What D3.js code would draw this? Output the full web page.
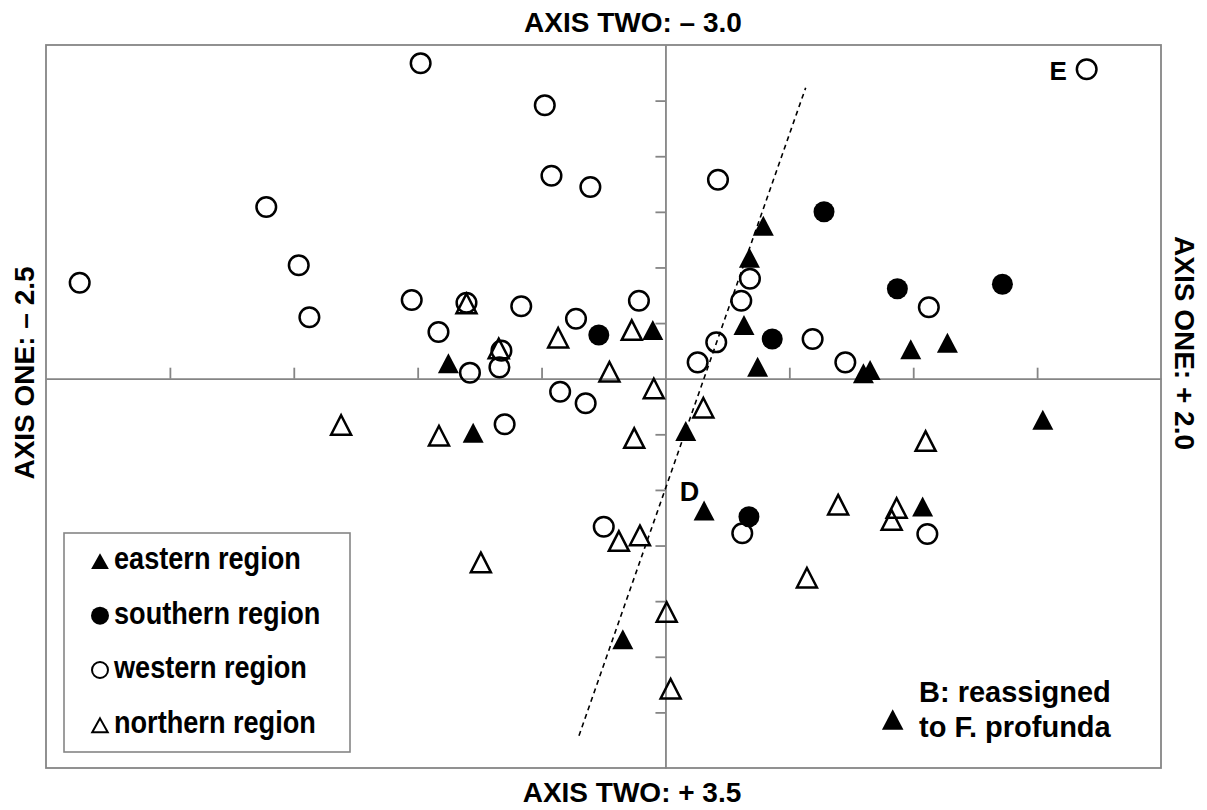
<!DOCTYPE html>
<html><head><meta charset="utf-8">
<script src="https://cdn.jsdelivr.net/npm/d3@7"></script>
<style>
body{margin:0;background:#fff}
text{font-family:"Liberation Sans",Arial,Helvetica,sans-serif;font-weight:bold;fill:#000}
</style>
</head><body>
<svg id="chart" width="1207" height="810"></svg>
<script>
// ---- data: [axis one, axis two] ----
const western = [
  [-0.988,-2.836],[-1.611,-1.544],[-1.480,-1.020],[-2.364,-0.863],[-1.437,-0.552],
  [-1.024,-0.708],[-0.916,-0.420],[-0.487,-2.458],[-0.460,-1.825],[-0.303,-1.723],
  [0.212,-1.789],[0.341,-0.899],[0.306,-0.701],[0.594,-0.357],[0.726,-0.147],
  [0.205,-0.327],[0.130,-0.147],[-0.107,-0.701],[-0.361,-0.539],[-0.582,-0.651],
  [-0.803,-0.683],[-0.662,-0.252],[-0.670,-0.102],[-0.789,-0.054],[1.700,-2.782],
  [1.063,-0.642],[-0.425,0.117],[-0.322,0.221],[-0.649,0.410],[0.310,1.390],
  [-0.249,1.331],[1.057,1.396]
];
const southern = [
  [0.640,-1.501],[0.936,-0.809],[1.360,-0.849],[0.431,-0.357],[-0.269,-0.393],[0.337,1.241]
];
const eastern = [
  [0.395,-1.346],[0.339,-1.058],[0.317,-0.453],[0.372,-0.078],[-0.051,-0.408],
  [-0.876,-0.108],[0.990,-0.234],[1.138,-0.294],[0.799,-0.018],[0.826,-0.049],
  [0.082,0.500],[-0.776,0.515],[0.156,1.216],[-0.172,2.373],[1.523,0.398],[1.038,1.180]
];
const northern = [
  [-0.803,-0.647],[-0.673,-0.243],[-0.136,-0.408],[-0.433,-0.339],[-0.226,-0.033],
  [-0.047,0.117],[0.153,0.290],[-0.126,0.563],[-1.309,0.446],[-0.914,0.542],
  [0.697,1.162],[-0.188,1.489],[-0.103,1.438],[-0.745,1.681],[0.571,1.819],
  [0.005,2.127],[0.021,2.817],[1.050,0.590],[0.933,1.192],[0.913,1.300]
];
const labelledPoints = [
  {label:"E", point:[1.700,-2.782]},
  {label:"D", point:[0.156,1.216]}
];
const dividerLine = [[-0.349,3.210],[0.566,-2.616]];
const axisOneTicks = [-2,-1.5,-1,-0.5,0.5,1,1.5];
const axisTwoTicks = [-2.5,-2,-1.5,-1,-0.5,0.5,1,1.5,2,2.5,3];
const axisOneDomain = [-2.5, 2.0];
const axisTwoDomain = [-3.0, 3.5];
const titles = {
  top: "AXIS TWO: \u2013 3.0",
  bottom: "AXIS TWO: + 3.5",
  left: "AXIS ONE: \u2013 2.5",
  right: "AXIS ONE: + 2.0"
};
const legendItems = [
  {name:"eastern region", shape:"triangle", filled:true},
  {name:"southern region", shape:"circle", filled:true},
  {name:"western region", shape:"circle", filled:false},
  {name:"northern region", shape:"triangle", filled:false}
];
const noteLines = ["B: reassigned", "to F. profunda"];

// ---- drawing ----
const svg = d3.select("#chart");
const F = {left:46, top:45, right:1161, bottom:768};
const x = d3.scaleLinear().domain(axisOneDomain).range([F.left, F.right]);
const y = d3.scaleLinear().domain(axisTwoDomain).range([F.top, F.bottom]);
const GRAY = "#858585";

svg.append("rect").attr("width",1207).attr("height",810).attr("fill","#fff");
svg.append("rect").attr("x",F.left).attr("y",F.top)
  .attr("width",F.right-F.left).attr("height",F.bottom-F.top)
  .attr("fill","none").attr("stroke",GRAY).attr("stroke-width",1.8);

const gx = svg.append("g").attr("transform",`translate(0,${y(0)})`)
  .call(d3.axisTop(x).tickValues(axisOneTicks).tickSize(11).tickSizeOuter(0).tickFormat(""));
const gy = svg.append("g").attr("transform",`translate(${x(0)},0)`)
  .call(d3.axisLeft(y).tickValues(axisTwoTicks).tickSize(10).tickSizeOuter(0).tickFormat(""));
[gx,gy].forEach(g=>{
  g.selectAll("path,line").attr("stroke",GRAY).attr("stroke-width",1.8);
});

// divider dashed line
svg.append("path")
  .attr("d", d3.line().x(d=>x(d[0])).y(d=>y(d[1]))(dividerLine))
  .attr("fill","none").attr("stroke","#000").attr("stroke-width",1.6)
  .attr("stroke-dasharray","5,4");

function tri(w,h){ return `M0,${-2*h/3}L${w/2},${h/3}L${-w/2},${h/3}Z`; }

function drawPoints(data, shape, filled){
  const g = svg.append("g");
  const sel = g.selectAll("path").data(data).join("path")
    .attr("transform", d=>`translate(${x(d[0])},${y(d[1])})`);
  if(shape==="circle"){
    sel.attr("d", filled ? d3.arc()({innerRadius:0,outerRadius:10.5,startAngle:0,endAngle:2*Math.PI})
                         : d3.arc()({innerRadius:0,outerRadius:9.8,startAngle:0,endAngle:2*Math.PI}));
  } else {
    sel.attr("d", filled ? tri(21,20) : tri(20,19.5));
  }
  if(filled) sel.attr("fill","#000").attr("stroke","none");
  else sel.attr("fill","none").attr("stroke","#000").attr("stroke-width",2.5).attr("stroke-linejoin","miter");
}
drawPoints(western,"circle",false);
drawPoints(northern,"triangle",false);
drawPoints(southern,"circle",true);
drawPoints(eastern,"triangle",true);

// point labels
const labelOffsets = {E:[-28.4,10.7,26], D:[-14.5,-13,27]};
labelledPoints.forEach(p=>{
  const o = labelOffsets[p.label];
  svg.append("text").attr("x",x(p.point[0])+o[0]).attr("y",y(p.point[1])+o[1])
    .attr("text-anchor","middle").attr("font-size",o[2]).text(p.label);
});

// axis titles
svg.append("text").attr("x",633).attr("y",32).attr("text-anchor","middle").attr("font-size",28).text(titles.top);
svg.append("text").attr("x",632).attr("y",802).attr("text-anchor","middle").attr("font-size",28).text(titles.bottom);
svg.append("text").attr("transform","translate(34,373) rotate(-90)").attr("text-anchor","middle").attr("font-size",28).text(titles.left);
svg.append("text").attr("transform","translate(1175,343) rotate(90)").attr("text-anchor","middle").attr("font-size",28).text(titles.right);

// legend
svg.append("rect").attr("x",64).attr("y",533).attr("width",286).attr("height",219)
  .attr("fill","#fff").attr("stroke",GRAY).attr("stroke-width",1.6);
const legendBase = [569.3, 624, 678.3, 733.3];
legendItems.forEach((it,i)=>{
  const b = legendBase[i];
  const s = svg.append("path");
  if(it.shape==="circle"){
    s.attr("transform",`translate(100,${b-8.3})`)
     .attr("d", d3.arc()({innerRadius:0,outerRadius: it.filled?9:8,startAngle:0,endAngle:2*Math.PI}));
  } else {
    s.attr("transform",`translate(100,${b-5.6})`).attr("d", it.filled?tri(17.7,15.7):tri(15.5,14));
  }
  if(it.filled) s.attr("fill","#000");
  else s.attr("fill","none").attr("stroke","#000").attr("stroke-width",2);
  svg.append("text").attr("transform",`translate(114,${b}) scale(0.875,1)`)
    .attr("font-size",31).text(it.name);
});

// note
svg.append("text").attr("x",919).attr("y",701.7).attr("font-size",29).text(noteLines[0]);
svg.append("text").attr("x",919).attr("y",736.7).attr("font-size",29).text(noteLines[1]);
svg.append("path").attr("transform","translate(892.7,723)").attr("d",tri(21.5,20.5)).attr("fill","#000");
</script>
</body></html>
